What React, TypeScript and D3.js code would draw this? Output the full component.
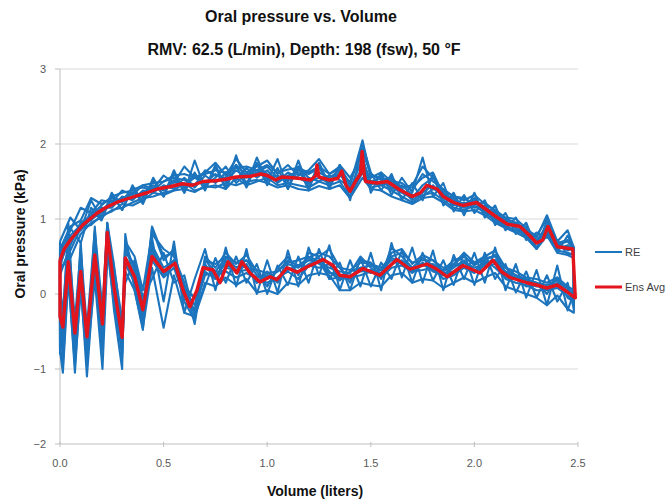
import React from "react";
import * as d3 from "d3";

// ---------- DATA ----------
const xTicks = [0, 0.5, 1.0, 1.5, 2.0, 2.5];
const yTicks = [-2, -1, 0, 1, 2, 3];

// Volume grid for the blue RE traces (upper branch)
const reUpperV = [0, 0.05, 0.1, 0.15, 0.2, 0.25, 0.3, 0.35, 0.4, 0.45, 0.5, 0.55, 0.6, 0.65, 0.7, 0.75, 0.8, 0.85, 0.9, 0.95, 1.0, 1.05, 1.1, 1.15, 1.2, 1.25, 1.3, 1.35, 1.4, 1.46, 1.5, 1.55, 1.6, 1.65, 1.7, 1.75, 1.8, 1.85, 1.9, 1.95, 2.0, 2.05, 2.1, 2.15, 2.2, 2.25, 2.3, 2.35, 2.4, 2.45, 2.48];
// Volume grid for the blue RE traces (lower branch)
const reLowerV = [0, 0.014, 0.04, 0.072, 0.1, 0.13, 0.168, 0.205, 0.228, 0.26, 0.3, 0.315, 0.36, 0.4, 0.444, 0.5, 0.55, 0.6, 0.65, 0.7, 0.75, 0.8, 0.85, 0.9, 0.95, 1.0, 1.05, 1.1, 1.15, 1.2, 1.25, 1.3, 1.35, 1.4, 1.45, 1.5, 1.55, 1.6, 1.65, 1.7, 1.75, 1.8, 1.85, 1.9, 1.95, 2.0, 2.05, 2.1, 2.15, 2.2, 2.25, 2.3, 2.35, 2.4, 2.45, 2.48];

const re1Upper = [0.55,0.85,1.15,1.08,1.25,1.22,1.38,1.32,1.45,1.40,1.58,1.48,1.70,1.55,1.62,1.75,1.58,1.80,1.62,1.70,1.78,1.60,1.72,1.58,1.65,1.80,1.60,1.70,1.45,2.05,1.55,1.62,1.50,1.48,1.38,1.60,1.50,1.40,1.30,1.25,1.32,1.20,1.12,1.02,1.00,0.88,0.75,1.05,0.70,0.85,0.62];
const re2Upper = [0.35,0.48,0.80,0.95,1.02,1.12,1.15,1.22,1.28,1.30,1.35,1.38,1.40,1.36,1.44,1.42,1.48,1.45,1.50,1.52,1.48,1.42,1.45,1.40,1.38,1.44,1.40,1.45,1.28,1.55,1.40,1.38,1.30,1.25,1.20,1.28,1.30,1.22,1.12,1.10,1.12,1.05,0.95,0.88,0.82,0.75,0.60,0.78,0.55,0.52,0.48];
const re3Upper = [0.45,0.78,0.92,1.05,1.10,1.25,1.22,1.35,1.30,1.42,1.40,1.52,1.45,1.55,1.48,1.60,1.50,1.65,1.55,1.72,1.60,1.50,1.62,1.55,1.48,1.62,1.55,1.65,1.40,1.80,1.50,1.55,1.42,1.35,1.28,1.45,1.55,1.35,1.25,1.20,1.25,1.15,1.08,0.98,0.92,0.85,0.70,0.90,0.65,0.62,0.60];
const re4Upper = [0.50,0.68,0.95,0.98,1.15,1.15,1.30,1.25,1.38,1.35,1.45,1.40,1.55,1.42,1.58,1.48,1.62,1.52,1.68,1.55,1.65,1.48,1.58,1.62,1.50,1.55,1.48,1.62,1.35,1.70,1.48,1.45,1.52,1.40,1.25,1.35,1.45,1.28,1.20,1.15,1.22,1.10,1.02,0.95,0.88,0.80,0.68,0.85,0.60,0.65,0.55];
const re5Upper = [0.40,0.75,0.85,1.00,1.08,1.20,1.28,1.28,1.35,1.45,1.38,1.50,1.42,1.60,1.45,1.55,1.70,1.48,1.60,1.65,1.52,1.58,1.50,1.70,1.55,1.50,1.58,1.52,1.42,1.65,1.45,1.58,1.40,1.45,1.32,1.30,1.40,1.35,1.18,1.22,1.15,1.18,1.00,0.92,0.95,0.78,0.72,0.82,0.68,0.58,0.62];
const re6Upper = [0.60,0.90,0.98,1.28,1.20,1.28,1.25,1.40,1.42,1.38,1.50,1.55,1.52,1.45,1.65,1.58,1.55,1.72,1.58,1.62,1.70,1.55,1.52,1.65,1.60,1.68,1.50,1.58,1.50,1.90,1.60,1.52,1.55,1.42,1.42,1.55,1.62,1.32,1.28,1.18,1.28,1.12,1.08,1.00,0.92,0.90,0.70,0.92,0.66,0.70,0.58];
const re7Upper = [0.30,0.58,0.88,0.92,1.05,1.10,1.20,1.18,1.25,1.35,1.32,1.38,1.48,1.38,1.42,1.45,1.40,1.55,1.45,1.50,1.55,1.45,1.48,1.45,1.42,1.50,1.45,1.50,1.30,1.62,1.42,1.45,1.38,1.30,1.22,1.32,1.35,1.25,1.15,1.12,1.18,1.08,0.98,0.90,0.85,0.78,0.62,0.80,0.58,0.55,0.52];
const re8Upper = [0.70,1.02,0.85,1.25,1.00,1.35,1.12,1.40,1.20,1.52,1.30,1.62,1.35,1.78,1.40,1.72,1.42,1.85,1.45,1.82,1.50,1.80,1.40,1.78,1.42,1.75,1.45,1.72,1.55,1.85,1.35,1.62,1.32,1.55,1.35,1.82,1.30,1.48,1.10,1.32,1.08,1.25,0.92,1.08,0.80,0.95,0.60,0.98,0.55,0.78,0.60];
const re9Upper = [0.35,0.88,0.68,1.15,0.98,1.32,1.12,1.45,1.22,1.55,1.30,1.65,1.35,1.62,1.38,1.70,1.40,1.72,1.42,1.75,1.45,1.68,1.40,1.70,1.38,1.75,1.40,1.72,1.25,2.00,1.62,1.38,1.60,1.25,1.48,1.25,1.60,1.18,1.35,1.05,1.35,1.02,1.18,0.85,1.02,0.72,0.82,0.75,0.72,0.52,0.55];
const re10Upper = [0.25,0.65,0.95,1.05,1.18,1.30,1.35,1.38,1.45,1.48,1.50,1.58,1.60,1.55,1.60,1.65,1.62,1.68,1.70,1.65,1.72,1.62,1.66,1.68,1.62,1.70,1.60,1.68,1.48,1.95,1.58,1.55,1.48,1.42,1.45,1.70,1.55,1.38,1.30,1.28,1.20,1.22,1.10,1.00,0.95,0.85,0.78,1.00,0.68,0.72,0.62];

const re1Lower = [-0.5,-0.75,0.85,-0.80,0.55,-0.95,0.75,-0.65,0.95,0.2,-0.85,0.62,0.35,-0.35,0.88,0.45,0.60,-0.10,-0.35,0.50,0.35,0.55,0.40,0.52,0.30,0.10,0.35,0.50,0.25,0.55,0.50,0.60,0.35,0.15,0.45,0.42,0.20,0.55,0.60,0.40,0.52,0.45,0.30,0.40,0.55,0.42,0.50,0.58,0.35,0.25,0.20,0.15,0.00,0.22,-0.05,-0.10];
const re2Lower = [-0.7,-0.95,0.30,-1.05,0.15,-1.10,0.35,-0.75,0.60,-0.10,-0.80,0.30,0.05,-0.45,0.35,-0.45,0.25,-0.25,-0.30,0.15,0.10,0.22,0.12,0.20,0.02,0.05,0.00,0.15,0.12,0.25,0.28,0.25,0.05,0.05,0.15,0.12,0.10,0.25,0.28,0.15,0.20,0.18,0.08,0.15,0.22,0.15,0.22,0.28,0.10,0.05,0.00,-0.05,-0.15,-0.02,-0.20,-0.25];
const re3Lower = [-0.2,-0.55,0.60,-0.45,0.40,-0.70,0.65,-0.30,0.90,0.25,-0.65,0.55,0.40,-0.15,0.65,0.35,0.45,0.10,-0.05,0.40,0.20,0.45,0.28,0.40,0.15,0.30,0.15,0.40,0.35,0.45,0.48,0.30,0.18,0.30,0.35,0.28,0.32,0.45,0.40,0.28,0.40,0.30,0.25,0.38,0.42,0.30,0.45,0.35,0.22,0.20,0.10,0.12,0.05,0.15,0.05,-0.02];
const re4Lower = [-0.4,-0.80,0.50,-0.90,0.25,-0.85,0.55,-0.55,0.75,0.00,-0.70,0.40,0.15,-0.35,0.45,0.22,0.35,-0.05,-0.20,0.25,0.30,0.30,0.22,0.28,0.20,0.15,0.22,0.30,0.20,0.38,0.35,0.40,0.20,0.22,0.25,0.30,0.22,0.35,0.38,0.30,0.32,0.35,0.20,0.25,0.35,0.28,0.38,0.40,0.20,0.15,0.12,0.05,0.05,0.08,-0.02,-0.08];
const re5Lower = [-0.1,-0.60,0.70,-0.65,0.45,-0.75,0.80,-0.45,0.92,0.15,-0.75,0.70,0.30,-0.25,0.90,0.50,0.55,0.05,-0.15,0.45,0.40,0.50,0.35,0.45,0.25,0.20,0.30,0.42,0.45,0.50,0.40,0.35,0.30,0.28,0.50,0.35,0.25,0.62,0.50,0.35,0.48,0.38,0.32,0.45,0.50,0.38,0.48,0.50,0.30,0.25,0.18,0.15,0.12,0.18,0.08,0.00];
const re6Lower = [-0.6,-0.65,0.45,-0.70,0.35,-0.60,0.45,-0.50,0.80,0.10,-0.55,0.45,0.20,-0.30,0.55,0.25,0.40,0.00,-0.25,0.35,0.25,0.40,0.30,0.32,0.22,0.25,0.18,0.35,0.30,0.40,0.45,0.20,0.22,0.25,0.30,0.32,0.28,0.40,0.45,0.32,0.38,0.40,0.28,0.30,0.42,0.35,0.40,0.45,0.25,0.20,0.15,0.10,0.10,0.12,0.02,-0.05];
const re7Lower = [-0.3,-0.50,0.40,-0.55,0.20,-0.65,0.60,-0.35,0.85,0.05,-0.60,0.50,0.25,-0.15,0.60,0.30,0.45,0.05,-0.05,0.30,0.20,0.35,0.32,0.38,0.15,0.25,0.20,0.32,0.38,0.45,0.42,0.28,0.25,0.20,0.35,0.38,0.32,0.48,0.42,0.30,0.42,0.32,0.25,0.35,0.45,0.30,0.42,0.45,0.28,0.22,0.18,0.12,0.08,0.10,0.05,-0.02];
const re8Lower = [-0.8,-0.35,0.95,-0.60,0.70,-0.80,0.90,-0.75,0.70,-0.20,-1.0,0.80,0.05,-0.48,0.75,-0.10,0.70,-0.25,0.20,0.60,0.05,0.62,0.10,0.60,0.00,0.45,0.02,0.58,0.10,0.62,0.25,0.65,0.05,0.45,0.10,0.55,0.05,0.68,0.22,0.62,0.15,0.58,0.05,0.52,0.20,0.55,0.15,0.62,0.05,0.40,-0.05,0.32,-0.15,0.38,-0.22,0.02];
const re9Lower = [-0.75,-1.05,0.20,-0.95,0.05,-0.90,0.20,-1.0,0.45,0.35,-0.35,0.15,0.45,-0.05,0.20,0.55,0.15,0.25,-0.30,0.10,0.48,0.15,0.50,0.15,0.40,0.00,0.38,0.12,0.50,0.15,0.60,0.20,0.42,0.05,0.48,0.10,0.42,0.20,0.58,0.15,0.55,0.18,0.45,0.12,0.55,0.12,0.55,0.20,0.40,0.02,0.30,-0.05,0.25,-0.10,0.15,-0.20];
const re10Lower = [0.1,-0.25,0.75,-0.35,0.60,-0.45,0.85,-0.20,0.95,0.40,-0.45,0.70,0.50,0.05,0.80,0.60,0.50,0.15,-0.40,0.45,0.30,0.48,0.42,0.45,0.32,0.28,0.30,0.45,0.38,0.48,0.55,0.50,0.35,0.32,0.42,0.40,0.35,0.50,0.55,0.42,0.45,0.45,0.35,0.40,0.50,0.40,0.45,0.52,0.35,0.30,0.22,0.20,0.15,0.22,0.10,0.05];

// Ensemble average (red)
const avgUpperV = [0.0,0.02,0.05,0.08,0.11,0.14,0.18,0.22,0.28,0.36,0.42,0.47,0.53,0.59,0.64,0.69,0.75,0.8,0.85,0.92,0.97,1.0,1.04,1.07,1.12,1.16,1.21,1.235,1.24,1.25,1.3,1.34,1.36,1.38,1.4,1.43,1.45,1.458,1.468,1.475,1.53,1.58,1.64,1.7,1.74,1.77,1.82,1.85,1.9,1.945,2.01,2.06,2.11,2.16,2.22,2.27,2.3,2.33,2.355,2.38,2.4,2.45,2.475];
const avgUpperP = [0.45,0.6,0.72,0.82,0.92,0.99,1.08,1.15,1.23,1.3,1.35,1.4,1.43,1.47,1.45,1.5,1.51,1.53,1.56,1.57,1.6,1.58,1.52,1.56,1.55,1.54,1.52,1.58,1.72,1.56,1.52,1.54,1.64,1.45,1.37,1.52,1.6,1.9,1.6,1.5,1.48,1.5,1.39,1.3,1.35,1.45,1.4,1.3,1.22,1.18,1.22,1.12,1.02,0.93,0.9,0.77,0.68,0.72,0.9,0.75,0.63,0.61,0.6];
const avgLowerV = [0.0,0.014,0.04,0.072,0.1,0.13,0.168,0.205,0.228,0.26,0.3,0.315,0.36,0.4,0.444,0.5,0.531,0.555,0.594,0.627,0.661,0.69,0.738,0.772,0.811,0.854,0.878,0.917,0.965,1.014,1.047,1.096,1.144,1.192,1.24,1.269,1.318,1.35,1.4,1.462,1.544,1.626,1.689,1.771,1.819,1.868,1.945,2.027,2.09,2.13,2.172,2.254,2.3,2.35,2.399,2.447,2.471,2.487];
const avgLowerP = [-0.3,-0.44,0.43,-0.52,0.3,-0.57,0.52,-0.4,0.82,0.1,-0.58,0.48,0.23,-0.21,0.5,0.3,0.36,0.41,0.05,-0.17,0.05,0.35,0.32,0.15,0.43,0.28,0.43,0.28,0.16,0.23,0.19,0.35,0.29,0.36,0.42,0.46,0.38,0.25,0.23,0.34,0.25,0.46,0.33,0.4,0.33,0.23,0.38,0.28,0.45,0.3,0.22,0.15,0.12,0.08,0.12,0.03,-0.02,-0.05];

const reUppers = [re1Upper, re2Upper, re3Upper, re4Upper, re5Upper, re6Upper, re7Upper, re8Upper, re9Upper, re10Upper];
const reLowers = [re1Lower, re2Lower, re3Lower, re4Lower, re5Lower, re6Lower, re7Lower, re8Lower, re9Lower, re10Lower];

// ---------- CHART ----------
const BLUE = "#1c74bd";
const RED = "#e3141c";
const GRID = "#d9d9d9";
const FONT = "'Liberation Sans', Arial, sans-serif";

type Pt = [number, number];

function loop(uv: number[], up: number[], lv: number[], lp: number[]): Pt[] {
  const a: Pt[] = [];
  uv.forEach((v, i) => { if (up[i] !== undefined) a.push([v, up[i]]); });
  const b: Pt[] = [];
  lv.forEach((v, i) => { if (lp[i] !== undefined) b.push([v, lp[i]]); });
  b.reverse();
  return [...a, ...b, a[0]];
}

export default function App() {
  const x = d3.scaleLinear().domain([0, 2.5]).range([60, 578]);
  const y = d3.scaleLinear().domain([-2, 3]).range([444, 69]);
  const line = d3.line<Pt>().x((d) => x(d[0])).y((d) => y(d[1]));

  const blueLoops = reUppers.map((u, i) => loop(reUpperV, u, reLowerV, reLowers[i]));
  const redLoop = loop(avgUpperV, avgUpperP, avgLowerV, avgLowerP);

  return (
    <svg width={670} height={502} style={{ position: "absolute", left: 0, top: 0, background: "#fff" }}>
      <rect x={0} y={0} width={670} height={502} fill="#fff" />
      {/* titles */}
      <text x={301} y={22} textAnchor="middle" fontFamily={FONT} fontWeight="bold" fontSize={16} fill="#111">
        Oral pressure vs. Volume
      </text>
      <text x={304} y={55} textAnchor="middle" fontFamily={FONT} fontWeight="bold" fontSize={16} fill="#111">
        RMV: 62.5 (L/min), Depth: 198 (fsw), 50 °F
      </text>

      {/* gridlines */}
      {yTicks.map((t) => (
        <line key={"g" + t} x1={x(0)} x2={x(2.5)} y1={y(t)} y2={y(t)} stroke={t === -2 ? "#bfbfbf" : GRID} strokeWidth={1} />
      ))}
      {/* y axis */}
      <line x1={x(0)} x2={x(0)} y1={y(3)} y2={y(-2)} stroke="#bfbfbf" />
      {yTicks.map((t) => (
        <g key={"yt" + t}>
          <line x1={x(0) - 5} x2={x(0)} y1={y(t)} y2={y(t)} stroke="#bfbfbf" />
          <text x={x(0) - 14} y={y(t) + 4} textAnchor="end" fontFamily={FONT} fontSize={11} fill="#595959">
            {d3.format("d")(t)}
          </text>
        </g>
      ))}
      {xTicks.map((t) => (
        <g key={"xt" + t}>
          <line x1={x(t)} x2={x(t)} y1={y(-2) - 2} y2={y(-2) + 3} stroke="#bfbfbf" />
          <text x={x(t)} y={467} textAnchor="middle" fontFamily={FONT} fontSize={11} fill="#595959">
            {d3.format(".1f")(t)}
          </text>
        </g>
      ))}

      {/* axis titles */}
      <text x={315} y={496} textAnchor="middle" fontFamily={FONT} fontWeight="bold" fontSize={14} fill="#111">
        Volume (liters)
      </text>
      <text transform="translate(25,234) rotate(-90)" textAnchor="middle" fontFamily={FONT} fontWeight="bold" fontSize={14} fill="#111">
        Oral pressure (kPa)
      </text>

      {/* traces */}
      {blueLoops.map((pts, i) => (
        <path key={"re" + i} d={line(pts) || ""} fill="none" stroke={BLUE} strokeWidth={2.1} strokeLinejoin="round" />
      ))}
      <path d={line(redLoop) || ""} fill="none" stroke={RED} strokeWidth={3.4} strokeLinejoin="round" />

      {/* legend */}
      <line x1={595} x2={622} y1={252} y2={252} stroke={BLUE} strokeWidth={2} />
      <text x={625} y={256} fontFamily={FONT} fontSize={11} fill="#404040">RE</text>
      <line x1={595} x2={622} y1={287} y2={287} stroke={RED} strokeWidth={3} />
      <text x={625} y={291} fontFamily={FONT} fontSize={11} fill="#404040">Ens Avg</text>
    </svg>
  );
}
